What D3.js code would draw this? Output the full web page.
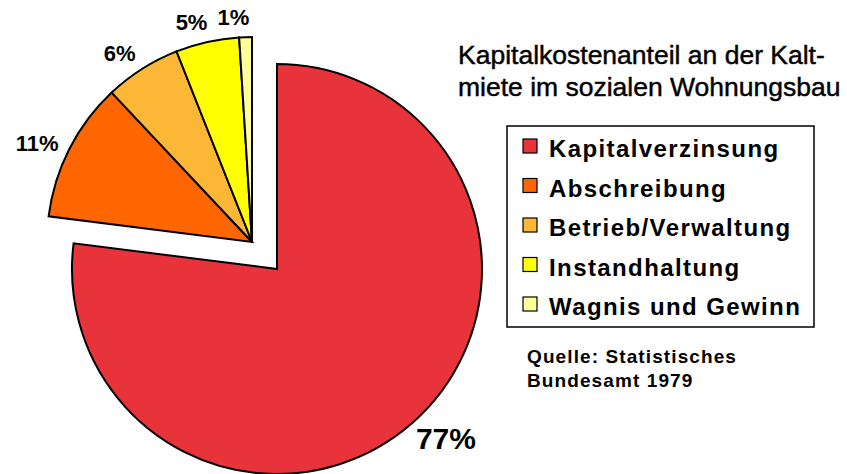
<!DOCTYPE html>
<meta charset="utf-8">
<head>
<title>Kapitalkostenanteil an der Kaltmiete</title>
<style>
  body { margin: 0; background: #fff; }
  text { font-family: "Liberation Sans", Arial, sans-serif; fill: #000; }
  .pct { font-weight: bold; }
  .legend text { font-weight: bold; font-size: 24px; letter-spacing: 1.4px; }
  .title { font-size: 26.5px; stroke: #000; stroke-width: 0.45px; }
  .source { font-weight: bold; font-size: 19px; letter-spacing: 1.1px; }
</style>
</head>
<body>
<svg width="847" height="474"></svg>
<script src="https://cdnjs.cloudflare.com/ajax/libs/d3/7.8.5/d3.min.js"></script>
<script>

// data
var categories = ["Kapitalverzinsung", "Abschreibung", "Betrieb/Verwaltung", "Instandhaltung", "Wagnis und Gewinn"];
var values = [77, 11, 6, 5, 1];
var colors = ["#e9333b", "#ff6600", "#fbb735", "#ffff00", "#ffff99"];
var titleLines = ["Kapitalkostenanteil an der Kalt-", "miete im sozialen Wohnungsbau"];
var sourceLines = ["Quelle: Statistisches", "Bundesamt 1979"];

var svg = d3.select("svg");

var radius = 205;
// the big slice sits at its own centre, the small ones are pulled out up-left
var mainCenter = [277, 269];
var explodeOffset = [-25, -27];

var pie = d3.pie().sort(null).value(function(d) { return d; });
var arcs = pie(values);

var arc = d3.arc().innerRadius(0).outerRadius(radius);

var slices = svg.append("g").selectAll("g")
    .data(arcs)
    .enter().append("g")
    .attr("transform", function(d, i) {
        var x = mainCenter[0] + (i === 0 ? 0 : explodeOffset[0]);
        var y = mainCenter[1] + (i === 0 ? 0 : explodeOffset[1]);
        return "translate(" + x + "," + y + ")";
    });

slices.append("path")
    .attr("d", arc)
    .attr("fill", function(d, i) { return colors[i]; })
    .attr("stroke", "#000")
    .attr("stroke-width", 2)
    .attr("stroke-linejoin", "miter");

// percent labels, just outside the rim, a touch counter-clockwise of the bisector
var gap = 7;
var labelTurn = -3 * Math.PI / 180;
slices.append("text")
    .attr("class", "pct")
    .style("font-size", function(d, i) { return i === 0 ? "30px" : "22px"; })
    .attr("text-anchor", "middle")
    .attr("dy", "0.36em")
    .text(function(d) { return d.value + "%"; })
    .each(function(d) {
        var box = this.getBBox();
        var a = (d.startAngle + d.endAngle) / 2 + labelTurn;
        var dx = Math.sin(a), dy = -Math.cos(a);
        var half = Math.abs(dx) * box.width / 2 + Math.abs(dy) * box.height * 0.36;
        var r = radius + gap + half;
        d3.select(this).attr("x", dx * r).attr("y", dy * r - 3);
    });

// title
svg.append("g").selectAll("text")
    .data(titleLines)
    .enter().append("text")
    .attr("class", "title")
    .attr("x", 458)
    .attr("y", function(d, i) { return 64 + i * 32; })
    .text(function(d) { return d; });

// legend
var legend = svg.append("g").attr("class", "legend");
legend.append("rect")
    .attr("x", 507).attr("y", 126)
    .attr("width", 307).attr("height", 201)
    .attr("fill", "none")
    .attr("stroke", "#000")
    .attr("stroke-width", 1.5);

var rowY = d3.scalePoint()
    .domain(categories)
    .range([157, 315]);

var rows = legend.selectAll("g.row")
    .data(categories)
    .enter().append("g")
    .attr("class", "row")
    .attr("transform", function(d) { return "translate(0," + rowY(d) + ")"; });

rows.append("rect")
    .attr("x", 523).attr("y", -18)
    .attr("width", 14).attr("height", 14)
    .attr("fill", function(d, i) { return colors[i]; })
    .attr("stroke", "#000")
    .attr("stroke-width", 1.2);

rows.append("text")
    .attr("x", 549)
    .attr("y", 0)
    .text(function(d) { return d; });

// source
svg.append("g").selectAll("text")
    .data(sourceLines)
    .enter().append("text")
    .attr("class", "source")
    .attr("x", 527)
    .attr("y", function(d, i) { return 363 + i * 24; })
    .text(function(d) { return d; });

</script>
</body>
